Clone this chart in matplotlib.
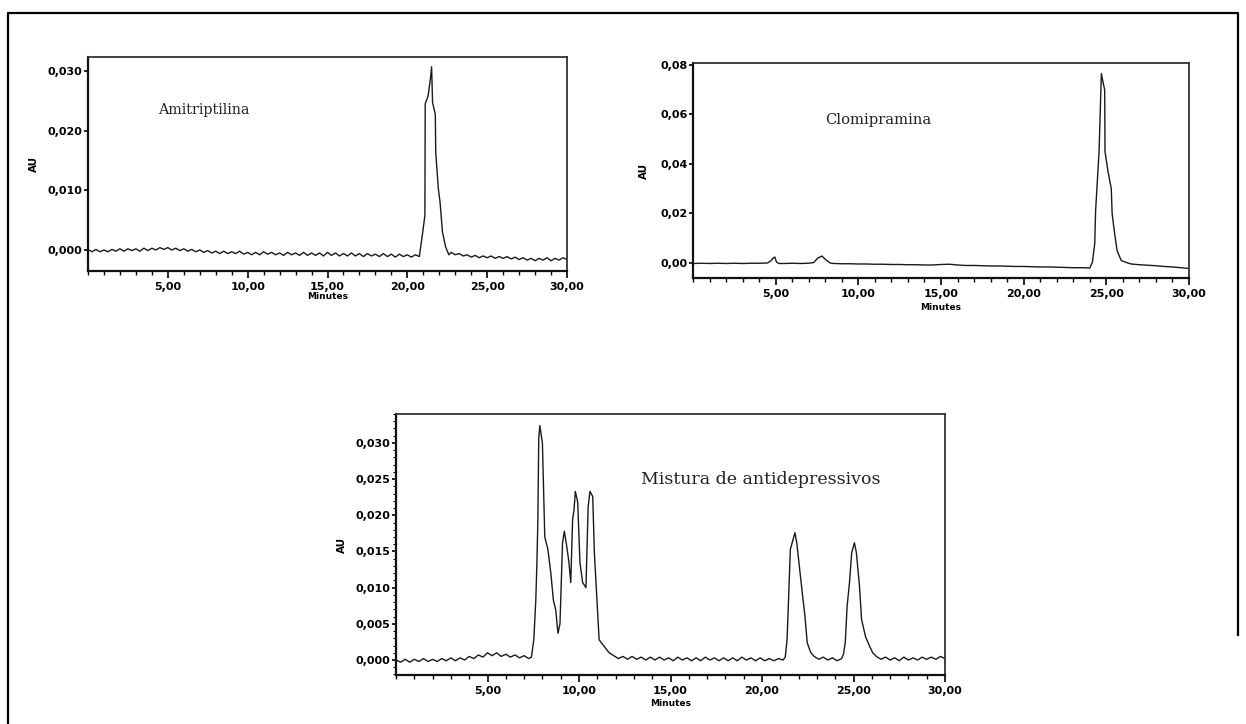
import numpy as np
import matplotlib
matplotlib.use("Agg")
import matplotlib.pyplot as plt
from matplotlib.ticker import MultipleLocator, FixedLocator, FuncFormatter
from matplotlib.lines import Line2D

# all absorbance values below are in units of 1e-4 AU

# --- Amitriptilina ---
ami_base1_t0, ami_base1_dt = 0.0, 0.25
ami_base1 = [1, -3, 1, -3, 0, -3, 1, -2,
             2, -2, 2, -1, 2, -2, 3, -1,
             3, 0, 4, 1, 4, 0, 3, -1,
             2, -2, 1, -3, 0, -4, -1, -5,
             -2, -6, -2, -6, -3, -6, -2, -7,
             -4, -8, -4, -8, -3, -7, -4, -8,
             -5, -9, -4, -8, -5, -9, -4, -9,
             -5, -9, -5, -10, -4, -9, -5, -10,
             -6, -10, -5, -10, -6, -11, -6, -10,
             -7, -11, -6, -11, -7, -12, -7, -11,
             -8, -12, -8, -11]
ami_peak_t = [20.94, 21.10, 21.12, 21.30, 21.45, 21.52, 21.58, 21.75, 21.78,
              21.94, 22.05, 22.20, 22.40, 22.60]
ami_peak_y = [25, 58, 245, 258, 288, 307, 247, 228, 163, 103, 80, 30, 5, -8]
ami_base2_t0, ami_base2_dt = 22.75, 0.25
ami_base2 = [-4, -8, -6, -10, -8, -12, -9, -13, -10, -13, -10, -14, -11, -14, -11,
             -15, -12, -16, -13, -17, -14, -18, -14, -17, -13, -18, -14, -17, -13, -16]

# --- Clomipramina ---
clo_baseA_t0, clo_baseA_dt = 0.0, 0.5
clo_baseA = [-2, -1, -2, -1, -2, -1, -2, -1, -1, 0]
clo_bump1_t = [4.70, 4.85, 4.95, 5.05, 5.20]
clo_bump1_y = [8, 20, 24, 4, -2]
clo_baseB_t0, clo_baseB_dt = 5.5, 0.5
clo_baseB = [-2, -1, -2, -1]
clo_bump2_t = [7.30, 7.55, 7.80, 8.05, 8.30]
clo_bump2_y = [2, 20, 28, 12, 0]
clo_baseC_t0, clo_baseC_dt = 8.5, 0.5
clo_baseC = [-2, -3, -3, -4, -4, -5, -5, -6, -6, -7, -7, -8, -8, -6, -5, -8,
             -10, -10, -11, -12, -12, -13, -14, -14, -15, -16, -16, -17, -18, -19, -19]
clo_peak_t = [24.00, 24.16, 24.30, 24.35, 24.56, 24.60, 24.70, 24.80, 24.90, 24.92,
              25.10, 25.30, 25.35, 25.50, 25.65, 25.90, 26.30]
clo_peak_y = [-20, 4, 80, 210, 450, 540, 765, 730, 700, 450,
              370, 300, 200, 120, 50, 10, 0]
clo_base2_t0, clo_base2_dt = 26.5, 0.5
clo_base2 = [-4, -7, -9, -11, -14, -16, -19, -22]

# --- Mistura de antidepressivos ---
mix_base1_t0, mix_base1_dt = 0.0, 0.25
mix_base1 = [0, -3, 1, -3, 1, -2, 2, -2, 1, -2, 2, -1, 3, -1, 3, 0,
             5, 2, 7, 4, 10, 6, 10, 5, 8, 4, 7, 3, 6, 2]
mix_peak1_t = [7.40, 7.53, 7.64, 7.70, 7.75, 7.80, 7.86, 8.00, 8.13, 8.30,
               8.46, 8.60, 8.73, 8.85, 8.96, 9.10, 9.20, 9.33, 9.45, 9.55,
               9.65, 9.73, 9.80, 9.93, 10.05, 10.20, 10.38, 10.50, 10.60, 10.75,
               10.84, 10.98, 11.10, 11.40, 11.65]
mix_peak1_y = [4, 28, 83, 135, 190, 306, 324, 300, 170, 153,
               120, 83, 69, 37, 50, 162, 178, 157, 135, 107,
               194, 208, 233, 218, 135, 107, 100, 212, 233, 226,
               148, 83, 28, 18, 10]
mix_base2_t0, mix_base2_dt = 11.9, 0.25
mix_base2 = [6, 2, 5, 1, 5, 1, 4, 0, 4, 0, 4, 0, 3, -1, 4, 0, 3, -1, 3, -1,
             4, 0, 3, -1, 3, -1, 3, -1, 4, 0, 3, -1, 3, -1, 2, -1, 2]
mix_peak2_t = [21.15, 21.27, 21.37, 21.48, 21.55, 21.70, 21.80, 21.90, 22.00,
               22.20, 22.35, 22.47, 22.65]
mix_peak2_y = [0, 4, 28, 107, 153, 167, 176, 162, 139, 93, 60, 24, 11]
mix_base3_t0, mix_base3_dt = 22.85, 0.25
mix_base3 = [5, 1, 4, 0, 3, -1, 2]
mix_peak3_t = [24.45, 24.55, 24.65, 24.78, 24.90, 25.05, 25.16, 25.33, 25.44,
               25.66, 25.90, 26.05]
mix_peak3_y = [8, 24, 74, 107, 148, 162, 148, 101, 56, 32, 18, 10]
mix_base4_t0, mix_base4_dt = 26.25, 0.25
mix_base4 = [5, 1, 4, 0, 3, -1, 4, 0, 3, 0, 4, 1, 4, 1, 5, 2]


def sampled(t0, dt, vals):
    return list(t0 + dt * np.arange(len(vals))), list(vals)


def trace(*parts):
    t, y = [], []
    for pt, py in parts:
        t += list(pt)
        y += list(py)
    return np.array(t), np.array(y) * 1e-4


ami_t, ami_y = trace(sampled(ami_base1_t0, ami_base1_dt, ami_base1),
                     (ami_peak_t, ami_peak_y),
                     sampled(ami_base2_t0, ami_base2_dt, ami_base2))
clo_t, clo_y = trace(sampled(clo_baseA_t0, clo_baseA_dt, clo_baseA),
                     (clo_bump1_t, clo_bump1_y),
                     sampled(clo_baseB_t0, clo_baseB_dt, clo_baseB),
                     (clo_bump2_t, clo_bump2_y),
                     sampled(clo_baseC_t0, clo_baseC_dt, clo_baseC),
                     (clo_peak_t, clo_peak_y),
                     sampled(clo_base2_t0, clo_base2_dt, clo_base2))
mix_t, mix_y = trace(sampled(mix_base1_t0, mix_base1_dt, mix_base1),
                     (mix_peak1_t, mix_peak1_y),
                     sampled(mix_base2_t0, mix_base2_dt, mix_base2),
                     (mix_peak2_t, mix_peak2_y),
                     sampled(mix_base3_t0, mix_base3_dt, mix_base3),
                     (mix_peak3_t, mix_peak3_y),
                     sampled(mix_base4_t0, mix_base4_dt, mix_base4))

W, H = 1246, 724
fig = plt.figure(figsize=(W / 100, H / 100), dpi=100)


def px_axes(x0, y0, x1, y1):
    return fig.add_axes([x0 / W, 1 - y1 / H, (x1 - x0) / W, (y1 - y0) / H])


tick_font = dict(family="DejaVu Sans", weight="bold", size=8)
x_fmt = FuncFormatter(lambda v, p: f"{v:.2f}".replace(".", ","))


def style(ax, t, y, ylim, yticks, ydec, title, tx, ty, tsize, ypad, xpad, yminor=None):
    ax.plot(t, y, color="#1a1a1a", lw=1.0)
    ax.set_xlim(0, 30)
    ax.set_ylim(*ylim)
    ax.xaxis.set_major_locator(FixedLocator([5, 10, 15, 20, 25, 30]))
    ax.xaxis.set_minor_locator(MultipleLocator(1))
    ax.xaxis.set_major_formatter(x_fmt)
    ax.yaxis.set_major_locator(FixedLocator(yticks))
    ax.yaxis.set_major_formatter(FuncFormatter(lambda v, p: f"{v:.{ydec}f}".replace(".", ",")))
    if yminor:
        ax.yaxis.set_minor_locator(MultipleLocator(yminor))
    ax.tick_params(axis="x", which="major", length=5, width=1.2, pad=3, direction="out")
    ax.tick_params(axis="x", which="minor", length=3, width=1.0, direction="out")
    ax.tick_params(axis="y", which="major", length=3, width=1.2, pad=1, direction="out")
    ax.tick_params(axis="y", which="minor", length=2, width=0.8, direction="out")
    for lab in ax.get_xticklabels() + ax.get_yticklabels():
        lab.set_fontproperties(matplotlib.font_manager.FontProperties(**tick_font))
    for side in ("left", "bottom"):
        ax.spines[side].set_linewidth(1.6)
        ax.spines[side].set_color("#111111")
    for side in ("top", "right"):
        ax.spines[side].set_linewidth(1.3)
        ax.spines[side].set_color("#333333")
    ax.set_xlabel("Minutes", fontsize=6.5, weight="bold", labelpad=xpad)
    ax.set_ylabel("AU", fontsize=7.5, weight="bold", labelpad=ypad)
    ax.text(tx, ty, title, family="DejaVu Serif", fontsize=tsize, color="#222222",
            ha="left", va="center")


ax1 = px_axes(88, 57, 567, 271)
style(ax1, ami_t, ami_y, (-0.00352, 0.03234), [0, 0.01, 0.02, 0.03], 3,
      "Amitriptilina", 4.4, 0.0235, 10.3, 6, 0)

ax2 = px_axes(693, 63, 1189, 278)
style(ax2, clo_t, clo_y, (-0.00606, 0.0808), [0, 0.02, 0.04, 0.06, 0.08], 2,
      "Clomipramina", 8.0, 0.0578, 10.6, 8, 3)

ax3 = px_axes(396, 414, 945, 675)
style(ax3, mix_t, mix_y, (-0.00207, 0.0340),
      [0, 0.005, 0.01, 0.015, 0.02, 0.025, 0.03], 3,
      "Mistura de antidepressivos", 13.4, 0.0249, 12.5, 6, 2, yminor=0.001)

# outer frame of the figure
frame_x = [7.5 / W, 7.5 / W, 1238 / W, 1238 / W]
frame_y = [0.0, 1 - 12.5 / H, 1 - 12.5 / H, 1 - 635 / H]
fig.add_artist(Line2D(frame_x, frame_y, transform=fig.transFigure,
                      color="black", lw=1.6))

fig.savefig("out.png", dpi=100)
